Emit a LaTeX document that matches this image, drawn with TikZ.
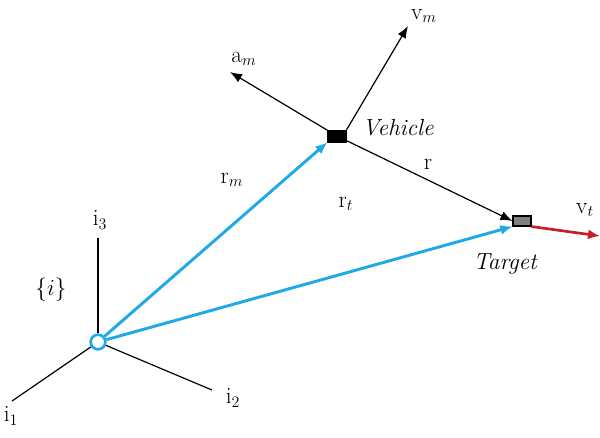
\documentclass[tikz,border=0pt]{standalone}
\usetikzlibrary{arrows.meta}
\definecolor{cblue}{RGB}{30,170,230}
\definecolor{cred}{RGB}{200,30,40}
\definecolor{cgray}{RGB}{128,128,128}
\tikzset{
  axis/.style={black,line width=0.9pt},
  vec/.style={black,line width=0.9pt,-{Latex[length=9pt,width=7pt]}},
  bvec/.style={cblue,line width=2.2pt,-{Latex[length=9pt,width=7.5pt]}},
  rvec/.style={cred,line width=2pt,-{Latex[length=9pt,width=7.5pt]}},
  lbl/.style={font=\fontsize{17.5}{20}\selectfont,inner sep=0pt},
}
\begin{document}
\begin{tikzpicture}[x=0.75pt,y=-0.75pt]
\useasboundingbox (0,0) rectangle (600,437);
% origin
\node[draw=cblue,line width=2pt,fill=white,circle,minimum size=11pt,inner sep=0pt] (O) at (98,342) {};
\coordinate (i3e) at (98,238);
\coordinate (i1e) at (12,401);
\coordinate (i2e) at (212,390);
\draw[axis] (O) -- (i3e);
\draw[axis] (O) -- (i1e);
\draw[axis] (O) -- (i2e);
\node[lbl] (i3) at (100,220) {i$_3$};
\node[lbl] (i1) at (11,416) {i$_1$};
\node[lbl] (i2) at (233,398) {i$_2$};
\node[lbl] (frame) at (51,290) {\{$i$\}};
% vehicle and target
\node[draw=black,fill=black,minimum width=14pt,minimum height=9pt,inner sep=0pt] (V) at (337,136) {};
\node[draw=black,fill=cgray,line width=0.8pt,minimum width=13.5pt,minimum height=7.5pt,inner sep=0pt] (T) at (522,221) {};
\coordinate (am) at (230,72);
\coordinate (vm) at (408,26);
\coordinate (vt) at (600,236);
\draw[vec] (V.center) -- (am);
\draw[vec] (V.north east) -- (vm);
\draw[vec] (V.center) -- (T.west);
\draw[rvec] (T.south east) -- (vt);
\draw[bvec] (O) -- (V.south west);
\draw[bvec] (O) -- (T.south west);
% labels
\node[lbl] (lam) at (244,59) {a$_m$};
\node[lbl] (lvm) at (424,16) {v$_m$};
\node[lbl,anchor=west] (lV) at (362,128) {\itshape Vehicle};
\node[lbl] (lr) at (428,164) {r};
\node[lbl] (lrm) at (232,180) {r$_m$};
\node[lbl] (lrt) at (346,204) {r$_t$};
\node[lbl] (lvt) at (585,210) {v$_t$};
\node[lbl] (lT) at (505,264) {\itshape Target};
\end{tikzpicture}
\end{document}
